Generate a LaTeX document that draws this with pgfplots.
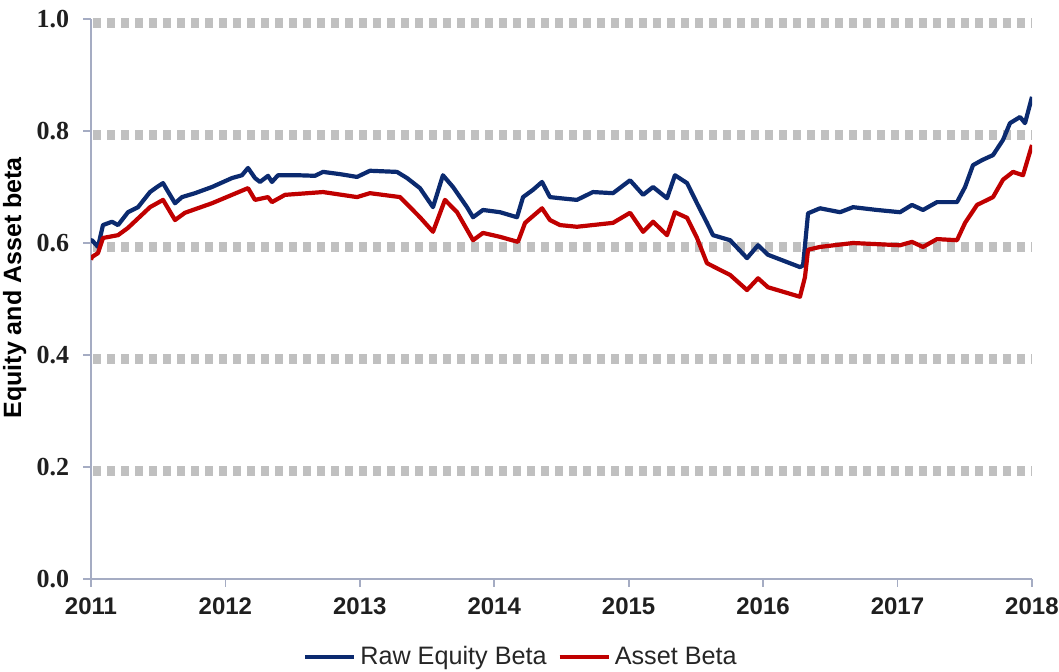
\documentclass[border=0pt]{standalone}
\usepackage{fontspec}
\setmainfont{Liberation Sans}
\newfontfamily\serifb{Liberation Serif}
\usepackage{pgfplots}
\pgfplotsset{compat=1.18}
\definecolor{navy}{HTML}{0B2A6F}
\definecolor{redline}{HTML}{C00000}
\definecolor{gridgray}{HTML}{C0C0C0}
\definecolor{axgray}{HTML}{A5ACC3}
\begin{document}
\begin{tikzpicture}
\begin{axis}[
  scale only axis,
  width=470.5pt, height=280pt,
  xmin=2011, xmax=2018, ymin=0, ymax=1,
  axis x line*=bottom, axis y line*=left,
  axis line style={axgray, line width=0.9pt, -},
  xtick={2011,...,2018},
  ytick={0,0.2,0.4,0.6,0.8,1.0},
  tick align=outside,
  major tick length=3.8pt,
  tick style={axgray, line width=0.9pt},
  /pgf/number format/assume math mode=true,
  xticklabel style={font=\fontsize{12}{14}\selectfont\bfseries, /pgf/number format/1000 sep={}, inner sep=0pt, anchor=north, yshift=-5.5pt, text=black!88},
  yticklabel style={font=\fontsize{13}{15}\selectfont\serifb\bfseries, /pgf/number format/fixed, /pgf/number format/precision=1, /pgf/number format/fixed zerofill, inner sep=0pt, anchor=east, xshift=-7pt, text=black!88},
  extra y ticks={0.192,0.392,0.592,0.792,0.992},
  extra y tick labels={},
  extra y tick style={grid=major, major tick length=0pt, tick style={draw=none}},
  major grid style={gridgray, line width=5pt, dash pattern=on 4pt off 3pt, dash phase=-1pt},
  ylabel={Equity and Asset beta},
  ylabel style={font=\fontsize{12.5}{14}\selectfont\bfseries, at={(axis description cs:-0.081,0.52)}, anchor=center},
  legend style={at={(axis description cs:0.225,-0.139)}, anchor=west, draw=none, inner sep=0pt, font=\fontsize{12.6}{14}\selectfont, text=black!85,
    /tikz/every even column/.append style={column sep=3.5pt}},
  legend columns=2,
  legend cell align=left,
  legend image code/.code={\draw[#1] (0pt,0pt) -- (24.5pt,0pt);},
]
\addplot[navy, line width=2.1pt, line join=round] coordinates {
(2011.000,0.600) (2011.007,0.605) (2011.052,0.593) (2011.089,0.632) (2011.156,0.638)
(2011.201,0.632) (2011.275,0.655) (2011.350,0.664) (2011.439,0.691) (2011.491,0.700)
(2011.536,0.707) (2011.565,0.695) (2011.625,0.671) (2011.677,0.682) (2011.774,0.689)
(2011.900,0.700) (2012.049,0.716) (2012.123,0.721) (2012.168,0.734) (2012.220,0.716)
(2012.257,0.709) (2012.317,0.720) (2012.346,0.709) (2012.391,0.721) (2012.540,0.721)
(2012.666,0.720) (2012.726,0.727) (2012.852,0.723) (2012.979,0.718) (2013.075,0.729)
(2013.276,0.727) (2013.351,0.716) (2013.447,0.698) (2013.544,0.664) (2013.618,0.721)
(2013.693,0.700) (2013.797,0.664) (2013.842,0.646) (2013.916,0.659) (2014.043,0.655)
(2014.169,0.646) (2014.214,0.682) (2014.288,0.695) (2014.355,0.709) (2014.414,0.682)
(2014.489,0.680) (2014.615,0.677) (2014.734,0.691) (2014.883,0.689) (2015.010,0.712)
(2015.107,0.686) (2015.181,0.700) (2015.285,0.680) (2015.344,0.721) (2015.434,0.707)
(2015.508,0.671) (2015.582,0.636) (2015.627,0.614) (2015.754,0.605) (2015.880,0.573)
(2015.962,0.596) (2016.036,0.579) (2016.274,0.557) (2016.297,0.560) (2016.334,0.653)
(2016.423,0.662) (2016.572,0.655) (2016.669,0.664) (2016.847,0.659) (2017.018,0.655)
(2017.107,0.668) (2017.189,0.659) (2017.293,0.673) (2017.442,0.673) (2017.502,0.700)
(2017.561,0.739) (2017.628,0.748) (2017.710,0.757) (2017.784,0.784) (2017.836,0.814)
(2017.911,0.825) (2017.948,0.814) (2018.000,0.861)
};
\addlegendentry{Raw Equity Beta}
\addplot[redline, line width=2.1pt, line join=round] coordinates {
(2011.000,0.570) (2011.007,0.575) (2011.052,0.582) (2011.089,0.609) (2011.201,0.614)
(2011.275,0.627) (2011.439,0.664) (2011.536,0.677) (2011.625,0.641) (2011.699,0.654)
(2011.900,0.671) (2012.168,0.698) (2012.220,0.677) (2012.317,0.682) (2012.346,0.673)
(2012.443,0.686) (2012.726,0.691) (2012.979,0.682) (2013.075,0.689) (2013.299,0.682)
(2013.447,0.646) (2013.544,0.620) (2013.633,0.677) (2013.723,0.655) (2013.842,0.605)
(2013.916,0.618) (2014.043,0.611) (2014.176,0.602) (2014.229,0.636) (2014.355,0.662)
(2014.414,0.641) (2014.489,0.632) (2014.615,0.629) (2014.883,0.636) (2015.010,0.654)
(2015.107,0.620) (2015.181,0.638) (2015.285,0.614) (2015.344,0.655) (2015.434,0.645)
(2015.508,0.609) (2015.582,0.564) (2015.679,0.552) (2015.754,0.543) (2015.880,0.516)
(2015.962,0.537) (2016.036,0.521) (2016.274,0.504) (2016.311,0.539) (2016.334,0.588)
(2016.423,0.593) (2016.669,0.600) (2017.018,0.596) (2017.107,0.602) (2017.189,0.593)
(2017.293,0.607) (2017.442,0.605) (2017.502,0.636) (2017.591,0.668) (2017.710,0.682)
(2017.784,0.713) (2017.859,0.727) (2017.933,0.721) (2018.000,0.775)
};
\addlegendentry{Asset Beta}
\end{axis}
\pgfresetboundingbox
\path ([xshift=-45.5pt,yshift=-46pt]current axis.south west) rectangle ([xshift=13.5pt,yshift=9.5pt]current axis.north east);
\end{tikzpicture}
\end{document}
